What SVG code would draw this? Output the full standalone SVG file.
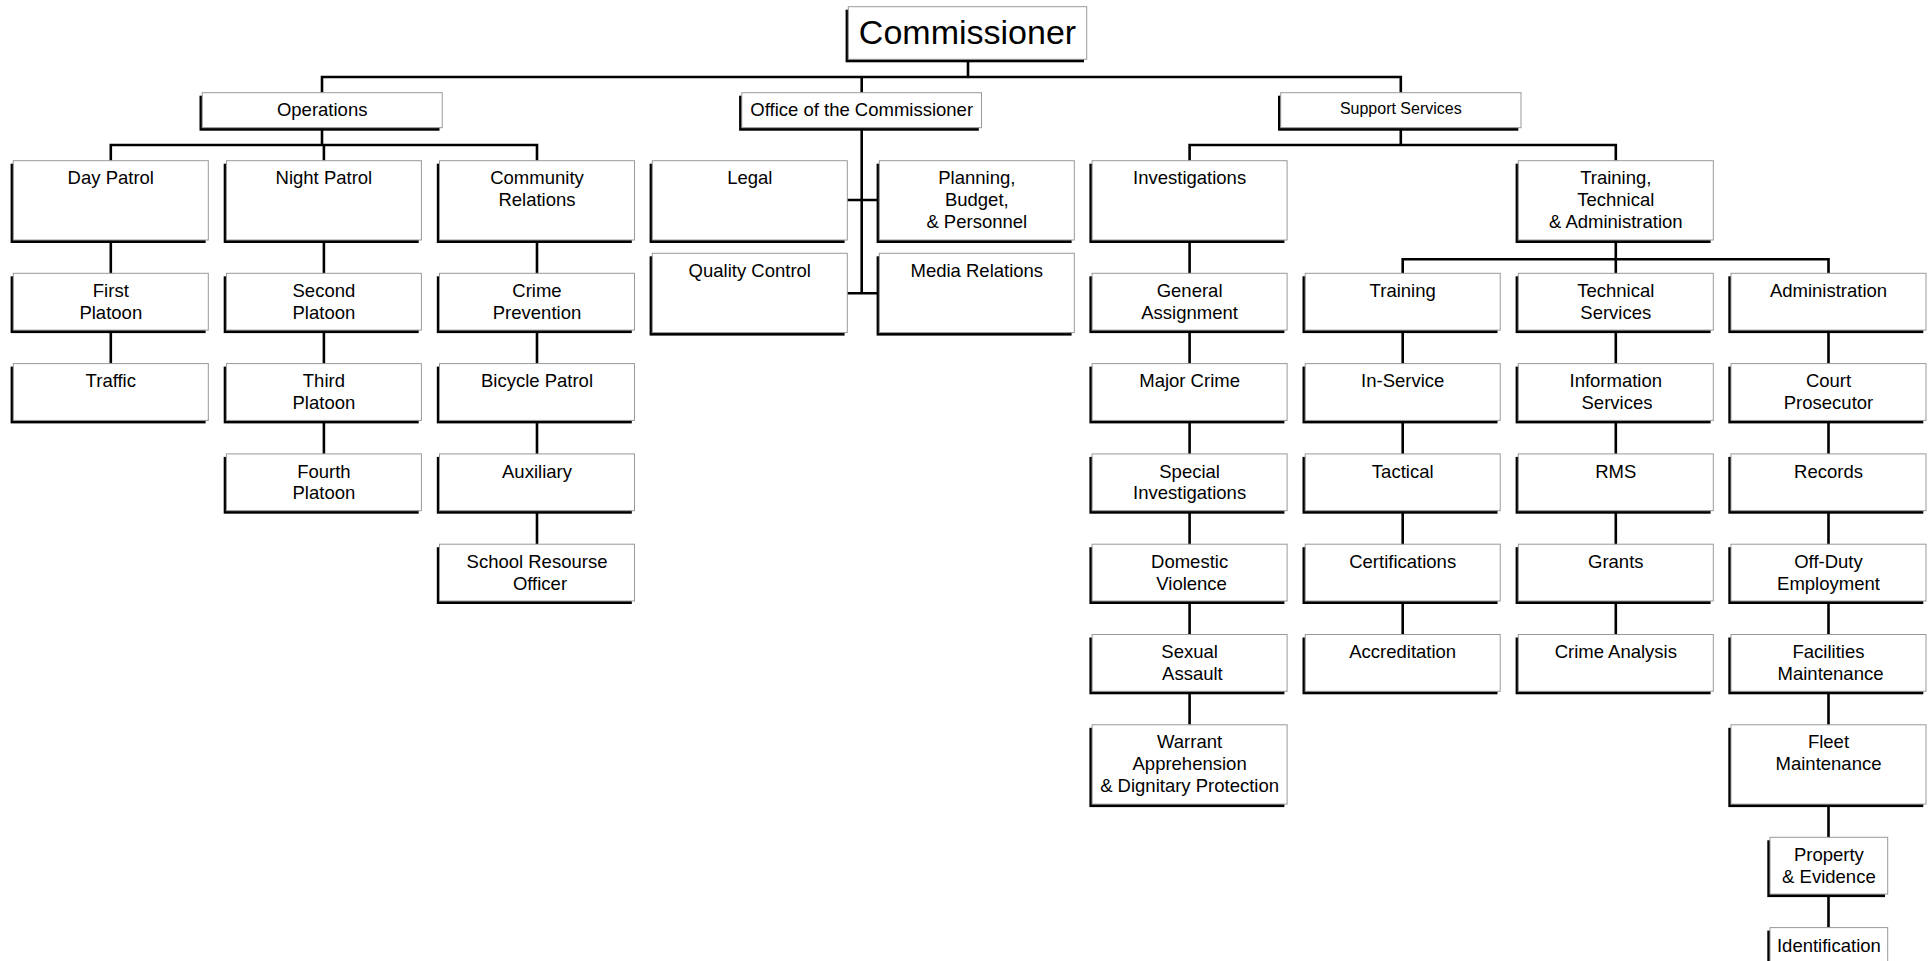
<svg xmlns="http://www.w3.org/2000/svg" width="1932" height="961" viewBox="0 0 1932 961">
<style>
.bg{fill:#fff}
.sh{fill:#000}
.bx{fill:#fff;stroke:#999;stroke-width:1}
.t{font-family:"Liberation Sans",Arial,sans-serif;font-size:18.5px;text-anchor:middle;fill:#000}
.big{font-size:34px}
.sm{font-size:16px}
.conn{stroke:#000;stroke-width:2.6;fill:none}
</style>
<rect class="bg" x="0" y="0" width="1932" height="961"/>
<g id="connectors" class="conn">
<path d="M968 59.3V77"/>
<path d="M322 92.7V77H1400.8V92.7"/>
<path d="M861.7 77V92.7"/>
<path d="M322 127.7V145"/>
<path d="M110.8 160.7V145H537V160.7"/>
<path d="M323.9 145V160.7"/>
<path d="M110.8 240V363.6"/>
<path d="M323.9 240V453.9"/>
<path d="M537 240V544.2"/>
<path d="M861.7 127.7V293.3"/>
<path d="M846.6 200H879.3"/>
<path d="M846.6 293.3H879.3"/>
<path d="M1400.8 127.7V145"/>
<path d="M1189.6 160.7V145H1615.8V160.7"/>
<path d="M1189.6 240V724.8"/>
<path d="M1615.8 240V634.5"/>
<path d="M1402.7 273.3V259.3H1828.5V273.3"/>
<path d="M1402.7 330V634.5"/>
<path d="M1828.5 330V927.6"/>
</g>

<g id="commissioner"><rect class="sh" x="845.6" y="9.7" width="238.4" height="52.6"/><rect class="bx" x="848.3" y="6.7" width="238.4" height="52.6"/><text class="t big" x="967.5" y="44.3">Commissioner</text></g>

<g id="operations"><rect class="sh" x="199.5" y="95.7" width="240" height="35"/><rect class="bx" x="202.2" y="92.7" width="240" height="35"/><text class="t" x="322.2" y="116">Operations</text></g>
<g id="office"><rect class="sh" x="739.1" y="95.7" width="239.7" height="35"/><rect class="bx" x="741.8" y="92.7" width="239.7" height="35"/><text class="t" x="861.7" y="116">Office of the Commissioner</text></g>
<g id="support"><rect class="sh" x="1278" y="95.7" width="240.3" height="35"/><rect class="bx" x="1280.7" y="92.7" width="240.3" height="35"/><text class="t sm" x="1400.8" y="114.3">Support Services</text></g>

<!-- Column 1 -->
<g id="day-patrol"><rect class="sh" x="10.6" y="163.7" width="195" height="79.3"/><rect class="bx" x="13.3" y="160.7" width="195" height="79.3"/><text class="t" x="110.8" y="184.3">Day Patrol</text></g>
<g id="first-platoon"><rect class="sh" x="10.6" y="276.3" width="195" height="56.8"/><rect class="bx" x="13.3" y="273.3" width="195" height="56.8"/><text class="t"><tspan x="110.8" y="296.9">First</tspan><tspan x="110.8" y="318.6">Platoon</tspan></text></g>
<g id="traffic"><rect class="sh" x="10.6" y="366.6" width="195" height="56.8"/><rect class="bx" x="13.3" y="363.6" width="195" height="56.8"/><text class="t" x="110.8" y="387.2">Traffic</text></g>

<!-- Column 2 -->
<g id="night-patrol"><rect class="sh" x="223.7" y="163.7" width="195" height="79.3"/><rect class="bx" x="226.4" y="160.7" width="195" height="79.3"/><text class="t" x="323.9" y="184.3">Night Patrol</text></g>
<g id="second-platoon"><rect class="sh" x="223.7" y="276.3" width="195" height="56.8"/><rect class="bx" x="226.4" y="273.3" width="195" height="56.8"/><text class="t"><tspan x="323.9" y="296.9">Second</tspan><tspan x="323.9" y="318.6">Platoon</tspan></text></g>
<g id="third-platoon"><rect class="sh" x="223.7" y="366.6" width="195" height="56.8"/><rect class="bx" x="226.4" y="363.6" width="195" height="56.8"/><text class="t"><tspan x="323.9" y="387.2">Third</tspan><tspan x="323.9" y="408.9">Platoon</tspan></text></g>
<g id="fourth-platoon"><rect class="sh" x="223.7" y="456.9" width="195" height="56.8"/><rect class="bx" x="226.4" y="453.9" width="195" height="56.8"/><text class="t"><tspan x="323.9" y="477.5">Fourth</tspan><tspan x="323.9" y="499.2">Platoon</tspan></text></g>

<!-- Column 3 -->
<g id="community-relations"><rect class="sh" x="436.8" y="163.7" width="195" height="79.3"/><rect class="bx" x="439.5" y="160.7" width="195" height="79.3"/><text class="t"><tspan x="537" y="184.3">Community</tspan><tspan x="537" y="206">Relations</tspan></text></g>
<g id="crime-prevention"><rect class="sh" x="436.8" y="276.3" width="195" height="56.8"/><rect class="bx" x="439.5" y="273.3" width="195" height="56.8"/><text class="t"><tspan x="537" y="296.9">Crime</tspan><tspan x="537" y="318.6">Prevention</tspan></text></g>
<g id="bicycle-patrol"><rect class="sh" x="436.8" y="366.6" width="195" height="56.8"/><rect class="bx" x="439.5" y="363.6" width="195" height="56.8"/><text class="t" x="537" y="387.2">Bicycle Patrol</text></g>
<g id="auxiliary"><rect class="sh" x="436.8" y="456.9" width="195" height="56.8"/><rect class="bx" x="439.5" y="453.9" width="195" height="56.8"/><text class="t" x="537" y="477.5">Auxiliary</text></g>
<g id="school-resourse-officer"><rect class="sh" x="436.8" y="547.2" width="195" height="56.8"/><rect class="bx" x="439.5" y="544.2" width="195" height="56.8"/><text class="t"><tspan x="537" y="567.8">School Resourse</tspan><tspan x="540" y="589.5">Officer</tspan></text></g>

<!-- Office of the Commissioner -->
<g id="legal"><rect class="sh" x="649.6" y="163.7" width="195" height="79.3"/><rect class="bx" x="652.3" y="160.7" width="195" height="79.3"/><text class="t" x="749.8" y="184.3">Legal</text></g>
<g id="quality-control"><rect class="sh" x="649.6" y="256.3" width="195" height="79.3"/><rect class="bx" x="652.3" y="253.3" width="195" height="79.3"/><text class="t" x="749.8" y="276.9">Quality Control</text></g>
<g id="planning-budget-personnel"><rect class="sh" x="876.6" y="163.7" width="195" height="79.3"/><rect class="bx" x="879.3" y="160.7" width="195" height="79.3"/><text class="t"><tspan x="976.8" y="184.3">Planning,</tspan><tspan x="976.8" y="206">Budget,</tspan><tspan x="976.8" y="227.7">&amp; Personnel</tspan></text></g>
<g id="media-relations"><rect class="sh" x="876.6" y="256.3" width="195" height="79.3"/><rect class="bx" x="879.3" y="253.3" width="195" height="79.3"/><text class="t" x="976.8" y="276.9">Media Relations</text></g>

<!-- Investigations column -->
<g id="investigations"><rect class="sh" x="1089.4" y="163.7" width="195" height="79.3"/><rect class="bx" x="1092.1" y="160.7" width="195" height="79.3"/><text class="t" x="1189.6" y="184.3">Investigations</text></g>
<g id="general-assignment"><rect class="sh" x="1089.4" y="276.3" width="195" height="56.8"/><rect class="bx" x="1092.1" y="273.3" width="195" height="56.8"/><text class="t"><tspan x="1189.6" y="296.9">General</tspan><tspan x="1189.6" y="318.6">Assignment</tspan></text></g>
<g id="major-crime"><rect class="sh" x="1089.4" y="366.6" width="195" height="56.8"/><rect class="bx" x="1092.1" y="363.6" width="195" height="56.8"/><text class="t" x="1189.6" y="387.2">Major Crime</text></g>
<g id="special-investigations"><rect class="sh" x="1089.4" y="456.9" width="195" height="56.8"/><rect class="bx" x="1092.1" y="453.9" width="195" height="56.8"/><text class="t"><tspan x="1189.6" y="477.5">Special</tspan><tspan x="1189.6" y="499.2">Investigations</tspan></text></g>
<g id="domestic-violence"><rect class="sh" x="1089.4" y="547.2" width="195" height="56.8"/><rect class="bx" x="1092.1" y="544.2" width="195" height="56.8"/><text class="t"><tspan x="1189.6" y="567.8">Domestic</tspan><tspan x="1191.6" y="589.5">Violence</tspan></text></g>
<g id="sexual-assault"><rect class="sh" x="1089.4" y="637.5" width="195" height="56.8"/><rect class="bx" x="1092.1" y="634.5" width="195" height="56.8"/><text class="t"><tspan x="1189.6" y="658.1">Sexual</tspan><tspan x="1192.4" y="679.8">Assault</tspan></text></g>
<g id="warrant-apprehension"><rect class="sh" x="1089.4" y="727.8" width="195" height="79.3"/><rect class="bx" x="1092.1" y="724.8" width="195" height="79.3"/><text class="t"><tspan x="1189.6" y="748.4">Warrant</tspan><tspan x="1189.6" y="770.1">Apprehension</tspan><tspan x="1189.6" y="791.8">&amp; Dignitary Protection</tspan></text></g>

<!-- Training, Technical & Administration -->
<g id="training-technical-administration"><rect class="sh" x="1515.6" y="163.7" width="195" height="79.3"/><rect class="bx" x="1518.3" y="160.7" width="195" height="79.3"/><text class="t"><tspan x="1615.8" y="184.3">Training,</tspan><tspan x="1615.8" y="206">Technical</tspan><tspan x="1615.8" y="227.7">&amp; Administration</tspan></text></g>

<!-- Training column -->
<g id="training"><rect class="sh" x="1302.5" y="276.3" width="195" height="56.8"/><rect class="bx" x="1305.2" y="273.3" width="195" height="56.8"/><text class="t" x="1402.7" y="296.9">Training</text></g>
<g id="in-service"><rect class="sh" x="1302.5" y="366.6" width="195" height="56.8"/><rect class="bx" x="1305.2" y="363.6" width="195" height="56.8"/><text class="t" x="1402.7" y="387.2">In-Service</text></g>
<g id="tactical"><rect class="sh" x="1302.5" y="456.9" width="195" height="56.8"/><rect class="bx" x="1305.2" y="453.9" width="195" height="56.8"/><text class="t" x="1402.7" y="477.5">Tactical</text></g>
<g id="certifications"><rect class="sh" x="1302.5" y="547.2" width="195" height="56.8"/><rect class="bx" x="1305.2" y="544.2" width="195" height="56.8"/><text class="t" x="1402.7" y="567.8">Certifications</text></g>
<g id="accreditation"><rect class="sh" x="1302.5" y="637.5" width="195" height="56.8"/><rect class="bx" x="1305.2" y="634.5" width="195" height="56.8"/><text class="t" x="1402.7" y="658.1">Accreditation</text></g>

<!-- Technical column -->
<g id="technical-services"><rect class="sh" x="1515.6" y="276.3" width="195" height="56.8"/><rect class="bx" x="1518.3" y="273.3" width="195" height="56.8"/><text class="t"><tspan x="1615.8" y="296.9">Technical</tspan><tspan x="1615.8" y="318.6">Services</tspan></text></g>
<g id="information-services"><rect class="sh" x="1515.6" y="366.6" width="195" height="56.8"/><rect class="bx" x="1518.3" y="363.6" width="195" height="56.8"/><text class="t"><tspan x="1615.8" y="387.2">Information</tspan><tspan x="1617" y="408.9">Services</tspan></text></g>
<g id="rms"><rect class="sh" x="1515.6" y="456.9" width="195" height="56.8"/><rect class="bx" x="1518.3" y="453.9" width="195" height="56.8"/><text class="t" x="1615.8" y="477.5">RMS</text></g>
<g id="grants"><rect class="sh" x="1515.6" y="547.2" width="195" height="56.8"/><rect class="bx" x="1518.3" y="544.2" width="195" height="56.8"/><text class="t" x="1615.8" y="567.8">Grants</text></g>
<g id="crime-analysis"><rect class="sh" x="1515.6" y="637.5" width="195" height="56.8"/><rect class="bx" x="1518.3" y="634.5" width="195" height="56.8"/><text class="t" x="1615.8" y="658.1">Crime Analysis</text></g>

<!-- Administration column -->
<g id="administration"><rect class="sh" x="1728.3" y="276.3" width="195" height="56.8"/><rect class="bx" x="1731" y="273.3" width="195" height="56.8"/><text class="t" x="1828.5" y="296.9">Administration</text></g>
<g id="court-prosecutor"><rect class="sh" x="1728.3" y="366.6" width="195" height="56.8"/><rect class="bx" x="1731" y="363.6" width="195" height="56.8"/><text class="t"><tspan x="1828.5" y="387.2">Court</tspan><tspan x="1828.5" y="408.9">Prosecutor</tspan></text></g>
<g id="records"><rect class="sh" x="1728.3" y="456.9" width="195" height="56.8"/><rect class="bx" x="1731" y="453.9" width="195" height="56.8"/><text class="t" x="1828.5" y="477.5">Records</text></g>
<g id="off-duty-employment"><rect class="sh" x="1728.3" y="547.2" width="195" height="56.8"/><rect class="bx" x="1731" y="544.2" width="195" height="56.8"/><text class="t"><tspan x="1828.5" y="567.8">Off-Duty</tspan><tspan x="1828.5" y="589.5">Employment</tspan></text></g>
<g id="facilities-maintenance"><rect class="sh" x="1728.3" y="637.5" width="195" height="56.8"/><rect class="bx" x="1731" y="634.5" width="195" height="56.8"/><text class="t"><tspan x="1828.5" y="658.1">Facilities</tspan><tspan x="1830.5" y="679.8">Maintenance</tspan></text></g>
<g id="fleet-maintenance"><rect class="sh" x="1728.3" y="727.8" width="195" height="79.3"/><rect class="bx" x="1731" y="724.8" width="195" height="79.3"/><text class="t"><tspan x="1828.5" y="748.4">Fleet</tspan><tspan x="1828.5" y="770.1">Maintenance</tspan></text></g>
<g id="property-evidence"><rect class="sh" x="1767.3" y="840.3" width="117.7" height="56.8"/><rect class="bx" x="1770" y="837.3" width="117.7" height="56.8"/><text class="t"><tspan x="1828.9" y="861.3">Property</tspan><tspan x="1828.9" y="882.6">&amp; Evidence</tspan></text></g>
<g id="identification"><rect class="sh" x="1767.3" y="930.6" width="117.7" height="56.8"/><rect class="bx" x="1770" y="927.6" width="117.7" height="56.8"/><text class="t" x="1828.9" y="952.4">Identification</text></g>
</svg>
